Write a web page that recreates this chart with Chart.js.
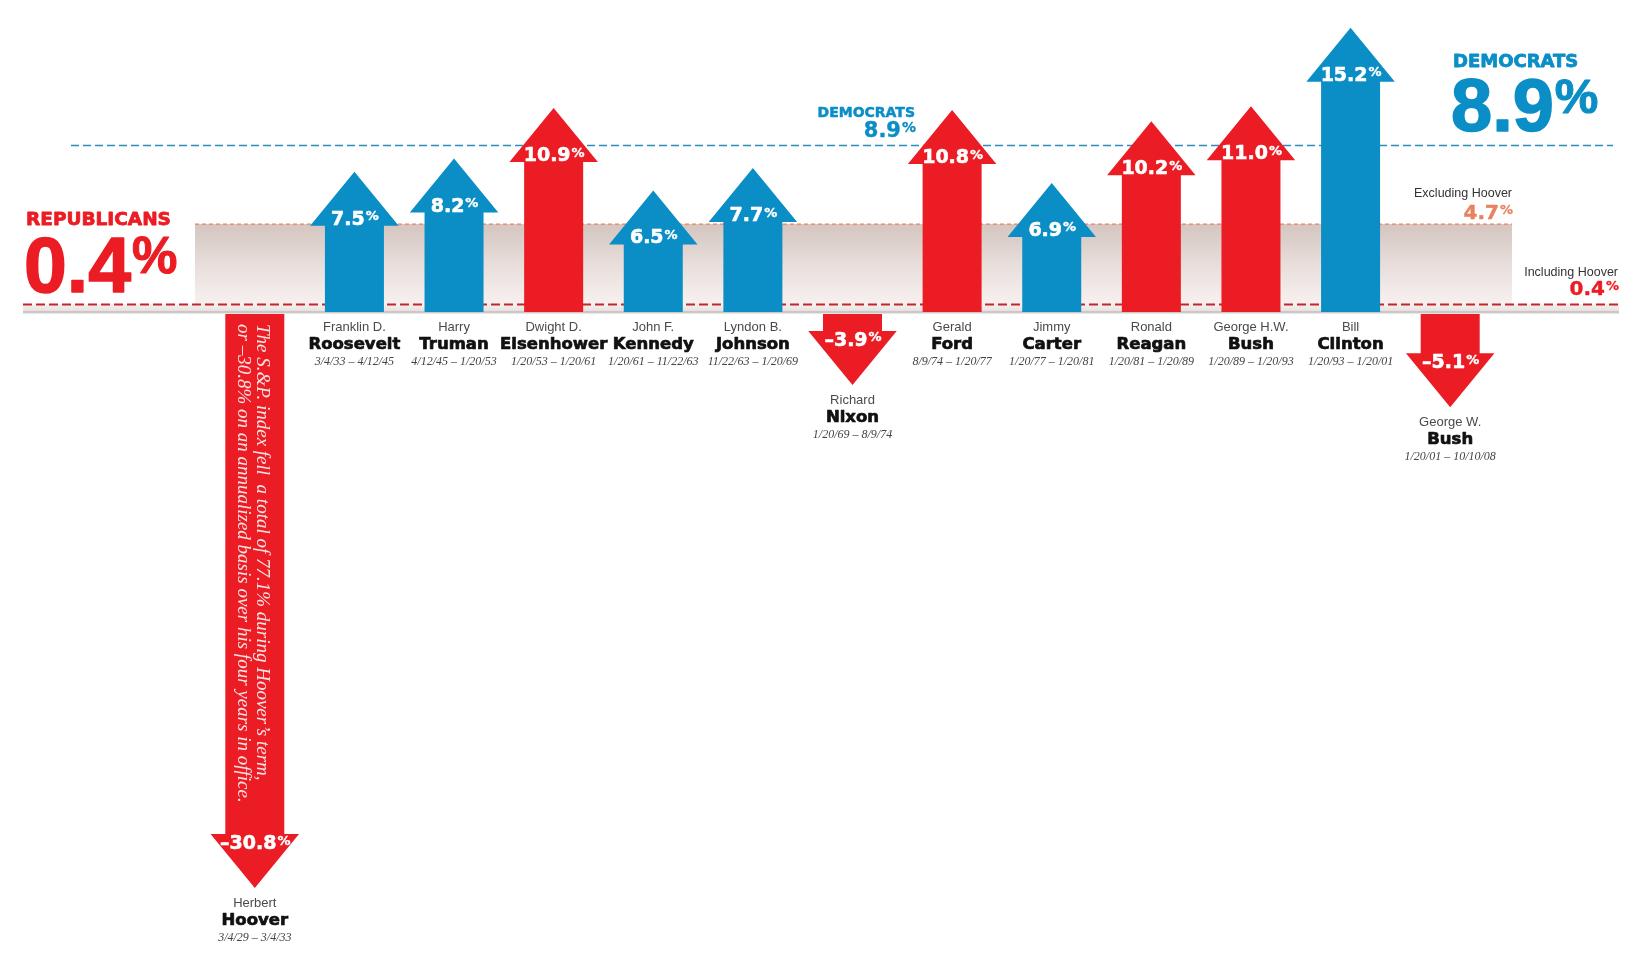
<!DOCTYPE html>
<html>
<head>
<meta charset="utf-8">
<script src="https://cdn.jsdelivr.net/npm/chart.js@4.4.1/dist/chart.umd.min.js"></script>
<style>
  html, body { margin: 0; padding: 0; background: #fff; }
  #wrap { width: 1638px; height: 968px; position: relative; }
</style>
</head>
<body>
<div id="wrap"><canvas id="chart"></canvas></div>
<script>
// annualized S&P 500 return per presidency
const firstNames = ['Herbert', 'Franklin D.', 'Harry', 'Dwight D.', 'John F.', 'Lyndon B.', 'Richard',
  'Gerald', 'Jimmy', 'Ronald', 'George H.W.', 'Bill', 'George W.'];
const lastNames = ['Hoover', 'Roosevelt', 'Truman', 'Eisenhower', 'Kennedy', 'Johnson', 'Nixon',
  'Ford', 'Carter', 'Reagan', 'Bush', 'Clinton', 'Bush'];
const terms = ['3/4/29 – 3/4/33', '3/4/33 – 4/12/45', '4/12/45 – 1/20/53', '1/20/53 – 1/20/61',
  '1/20/61 – 11/22/63', '11/22/63 – 1/20/69', '1/20/69 – 8/9/74', '8/9/74 – 1/20/77',
  '1/20/77 – 1/20/81', '1/20/81 – 1/20/89', '1/20/89 – 1/20/93', '1/20/93 – 1/20/01',
  '1/20/01 – 10/10/08'];
const parties = ['R', 'D', 'D', 'R', 'D', 'D', 'R', 'R', 'D', 'R', 'R', 'D', 'R'];
const annualReturn = [-30.8, 7.5, 8.2, 10.9, 6.5, 7.7, -3.9, 10.8, 6.9, 10.2, 11.0, 15.2, -5.1];

const demAverage = 8.9;
const repAverage = 0.4;      // including Hoover
const repExHoover = 4.7;     // excluding Hoover

const hooverNote = [
  'The S.&P. index fell  a total of 77.1% during Hoover\u2019s term,',
  'or \u201330.8% on an annualized basis over his four years in office.'
];

const BLUE = '#0b8ec6';
const RED = '#ec1c24';
const ORANGE = '#e9825e';
const SANS = '"Liberation Sans", Arial, sans-serif';
const HEAVY = '"DejaVu Sans", sans-serif';
const SERIF = '"Liberation Serif", serif';

function fmt(v) {
  return (v < 0 ? '\u2013' : '') + Math.abs(v).toFixed(1);
}

// fill text, optionally thickened with a thin stroke of the same colour
function put(ctx, str, x, y, heavy) {
  ctx.fillText(str, x, y);
  if (heavy) {
    ctx.lineWidth = heavy;
    ctx.strokeStyle = ctx.fillStyle;
    ctx.lineJoin = 'round';
    ctx.strokeText(str, x, y);
  }
}

// number with a small raised percent sign
function drawPct(ctx, num, x, y, size, family, color, align, heavy) {
  const s2 = Math.round(size * 0.66);
  ctx.font = `bold ${size}px ${family}`;
  const w1 = ctx.measureText(num).width;
  ctx.font = `bold ${s2}px ${family}`;
  const w2 = ctx.measureText('%').width;
  let left = x;
  if (align === 'center') left = x - (w1 + w2) / 2;
  if (align === 'right') left = x - w1 - w2;
  ctx.fillStyle = color;
  ctx.textAlign = 'left';
  ctx.textBaseline = 'alphabetic';
  ctx.font = `bold ${size}px ${family}`;
  put(ctx, num, left, y, heavy);
  ctx.font = `bold ${s2}px ${family}`;
  put(ctx, '%', left + w1 + 1, y - (size - s2) * 0.74, heavy ? heavy * 0.7 : 0);
}

function text(ctx, str, x, y, font, color, align, heavy) {
  ctx.font = font;
  ctx.fillStyle = color;
  ctx.textAlign = align || 'center';
  ctx.textBaseline = 'alphabetic';
  put(ctx, str, x, y, heavy);
}

function dashed(ctx, x1, x2, y, color, width, dash) {
  ctx.save();
  ctx.strokeStyle = color;
  ctx.lineWidth = width;
  ctx.setLineDash(dash);
  ctx.beginPath();
  ctx.moveTo(x1, y);
  ctx.lineTo(x2, y);
  ctx.stroke();
  ctx.restore();
}

const backdrop = {
  id: 'backdrop',
  beforeDatasetsDraw(chart) {
    const ctx = chart.ctx;
    const ys = chart.scales.y;
    const y0 = ys.getPixelForValue(0);
    const yEx = ys.getPixelForValue(repExHoover);
    const yIn = ys.getPixelForValue(repAverage);
    const yDem = ys.getPixelForValue(demAverage);

    // shaded band between the two Republican averages
    const g = ctx.createLinearGradient(0, yEx, 0, y0);
    g.addColorStop(0, '#d4c5c0');
    g.addColorStop(0.55, '#ebe2df');
    g.addColorStop(1, '#f9f4f3');
    ctx.fillStyle = g;
    ctx.fillRect(195, yEx, 1512 - 195, y0 - yEx);

    const g2 = ctx.createLinearGradient(0, yIn, 0, y0);
    g2.addColorStop(0, '#f6f0ee');
    g2.addColorStop(1, '#e6dfdd');
    ctx.fillStyle = g2;
    ctx.fillRect(23, yIn, 1596, y0 - yIn);

    ctx.fillStyle = '#cbc7c7';
    ctx.fillRect(23, y0 - 1, 1596, 2.5);

    dashed(ctx, 195, 1512, yEx, ORANGE, 1.3, [4, 3]);
    dashed(ctx, 23, 1619, yIn, '#c4242c', 2, [9, 4]);
    dashed(ctx, 71, 1613, yDem, '#2a8fbd', 1.5, [8, 4]);
  },
  afterDatasetsDraw(chart) {
    const ctx = chart.ctx;
    const meta = chart.getDatasetMeta(0);
    const hh = 54;

    meta.data.forEach((el, i) => {
      const v = annualReturn[i];
      const x = el.x, tip = el.y, base = el.base;
      const w = el.width, hw = w * 1.5;
      const up = v >= 0;
      const start = up ? base : base + 2;
      const neck = up ? tip + hh : tip - hh;

      ctx.fillStyle = parties[i] === 'D' ? BLUE : RED;
      ctx.beginPath();
      ctx.moveTo(x - w / 2, start);
      ctx.lineTo(x - w / 2, neck);
      ctx.lineTo(x - hw / 2, neck);
      ctx.lineTo(x, tip);
      ctx.lineTo(x + hw / 2, neck);
      ctx.lineTo(x + w / 2, neck);
      ctx.lineTo(x + w / 2, start);
      ctx.closePath();
      ctx.fill();

      drawPct(ctx, fmt(v), x, up ? neck - 1 : neck + 15, 19, HEAVY, '#fff', 'center', 0.6);

      const anchor = up ? base : tip;
      text(ctx, firstNames[i], x, anchor + 19, `13px ${SANS}`, '#4a4a4a');
      text(ctx, lastNames[i], x, anchor + 37, `bold 16.5px ${HEAVY}`, '#111', 'center', 0.7);
      text(ctx, terms[i], x, anchor + 53, `italic 12px ${SERIF}`, '#444');
    });

    // note inside Hoover's arrow
    const hoover = meta.data[0];
    ctx.save();
    ctx.translate(hoover.x, 324);
    ctx.rotate(Math.PI / 2);
    ctx.font = `italic 19px ${SERIF}`;
    ctx.fillStyle = '#fbe3e3';
    ctx.textAlign = 'left';
    ctx.textBaseline = 'alphabetic';
    ctx.fillText(hooverNote[0], 0, hoover.x - 257);
    ctx.fillText(hooverNote[1], 0, hoover.x - 238);
    ctx.restore();

    // party averages
    text(ctx, 'REPUBLICANS', 26, 225, `bold 18.5px ${HEAVY}`, RED, 'left', 0.8);
    drawPct(ctx, repAverage.toFixed(1), 24, 292, 77, SANS, RED, 'left', 1.5);

    text(ctx, 'DEMOCRATS', 1453, 67, `bold 18px ${HEAVY}`, BLUE, 'left', 0.8);
    drawPct(ctx, demAverage.toFixed(1), 1451, 131, 74, SANS, BLUE, 'left', 1.5);

    text(ctx, 'DEMOCRATS', 915, 117, `bold 14px ${HEAVY}`, BLUE, 'right', 0.5);
    drawPct(ctx, demAverage.toFixed(1), 915, 137, 21, HEAVY, BLUE, 'right', 0.4);

    text(ctx, 'Excluding Hoover', 1512, 197, `12.5px ${SANS}`, '#333', 'right');
    drawPct(ctx, repExHoover.toFixed(1), 1512, 219, 20, HEAVY, ORANGE, 'right', 0.4);

    text(ctx, 'Including Hoover', 1618, 276, `12.5px ${SANS}`, '#333', 'right');
    drawPct(ctx, repAverage.toFixed(1), 1618, 295, 20, HEAVY, RED, 'right', 0.4);
  }
};

const chart = new Chart(document.getElementById('chart'), {
  type: 'bar',
  data: {
    labels: lastNames.map((n, i) => firstNames[i] + ' ' + n),
    datasets: [{
      label: 'Annualized S&P return',
      data: annualReturn,
      backgroundColor: 'rgba(0,0,0,0)',
      borderWidth: 0,
      barThickness: 59
    }]
  },
  options: {
    responsive: true,
    maintainAspectRatio: false,
    animation: false,
    layout: { padding: { left: 205, right: 138, top: 0, bottom: 0 } },
    plugins: {
      legend: { display: false },
      title: { display: false },
      tooltip: { enabled: false }
    },
    scales: {
      x: { display: false, grid: { display: false } },
      y: { display: false, min: -35.08, max: 16.68, grid: { display: false } }
    }
  },
  plugins: [backdrop]
});
</script>
</body>
</html>
